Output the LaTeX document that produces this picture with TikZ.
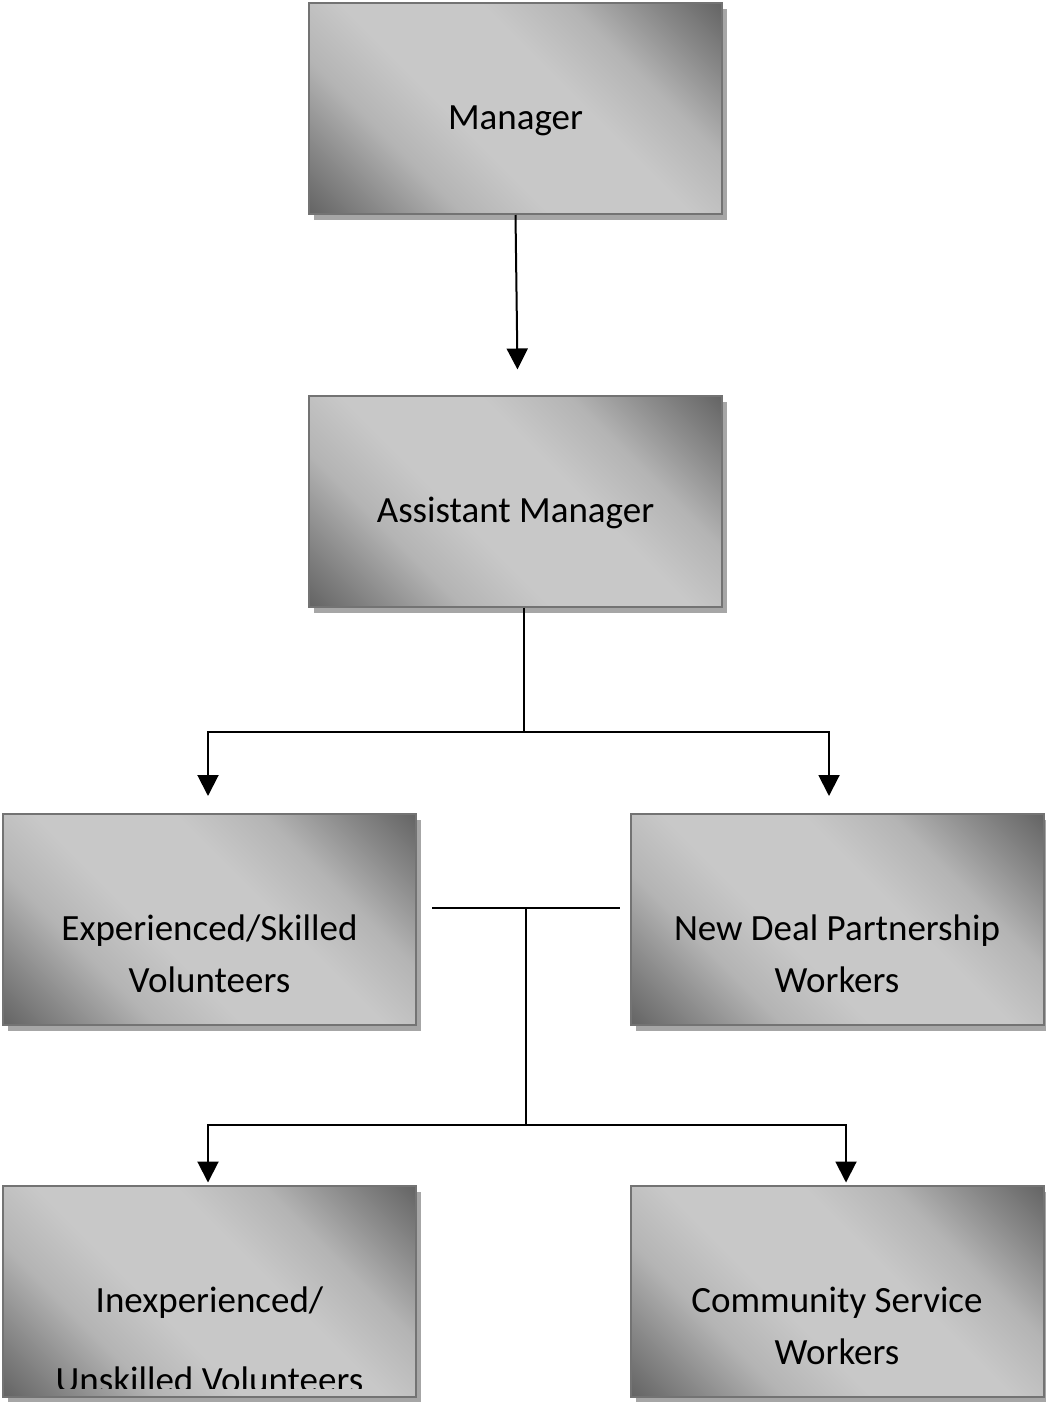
\documentclass[tikz,border=0pt]{standalone}
\usepackage{fontspec}
\setmainfont{Carlito}
\usetikzlibrary{positioning,calc,shadows,arrows.meta}

\definecolor{shadedark}{RGB}{102,102,102}
\definecolor{shademid}{RGB}{138,138,138}
\definecolor{shadesoft}{RGB}{180,180,180}
\definecolor{shadelight}{RGB}{200,200,200}
\pgfdeclareverticalshading{boxshade}{100bp}{color(0bp)=(shadedark); color(15bp)=(shadedark); color(23bp)=(shademid); color(32bp)=(shadesoft); color(42bp)=(shadelight); color(58bp)=(shadelight); color(68bp)=(shadesoft); color(77bp)=(shademid); color(85bp)=(shadedark); color(100bp)=(shadedark)}

\begin{document}
\begin{tikzpicture}[x=0.5pt, y=-0.5pt,
    role/.style={rectangle, draw=black!55, line width=1pt, shade, shading=boxshade, shading angle=-45,
        minimum width=206.5pt, minimum height=105.5pt, inner sep=0pt,
        general shadow={fill=black!35, shadow xshift=2.5pt, shadow yshift=-3pt}},
    roletext/.style={inner sep=0pt, align=center, font=\fontsize{18.5}{26}\selectfont},
    link/.style={line width=1pt},
    arrow/.style={-{Triangle[width=10.5pt,length=10.5pt]}, line width=1pt}
]
    \useasboundingbox (0,0) rectangle (1045,1402);

    % boxes
    \node[role] (manager01) at (515.5,108.5) {};
    \node[role] (assistant01) at (515.5,501) {};
    \node[role] (skilled01) at (209.5,919.5) {};
    \node[role] (newdeal01) at (837,919.5) {};
    \node[role] (unskilled01) at (209.5,1291) {};
    \node[role] (community01) at (837,1291) {};

    % texts
    \node[roletext, below=45.5pt of manager01.north] (managertext) {\strut Manager};
    \node[roletext, below=45.5pt of assistant01.north] (assistanttext) {\strut Assistant Manager};
    \node[roletext, below=45.5pt of skilled01.north] (skilledtext) {\strut Experienced/Skilled\\\strut Volunteers};
    \node[roletext, below=45.5pt of newdeal01.north] (newdealtext) {\strut New Deal Partnership\\\strut Workers};
    \node[roletext, below=45.5pt of community01.north] (communitytext) {\strut Community Service\\\strut Workers};
    \begin{scope}
        \clip (unskilled01.north west) rectangle ([yshift=4.5pt]unskilled01.south east);
        \node[roletext, below=45.5pt of unskilled01.north] (unskilledtext) {\strut Inexperienced/\\[14pt]\strut Unskilled Volunteers};
    \end{scope}

    % connectors
    \draw[arrow] (manager01.south) -- ([xshift=1pt, yshift=12.5pt]assistant01.north);

    \coordinate (split01) at (524,732);
    \draw[link] ([xshift=4.25pt]assistant01.south) -- (split01);
    \draw[arrow] (split01) -| ([xshift=-0.75pt, yshift=8.5pt]skilled01.north);
    \draw[arrow] (split01) -| ([xshift=-4pt, yshift=8.5pt]newdeal01.north);

    \coordinate (join01) at (432,908);
    \coordinate (join02) at (620,908);
    \coordinate (split02) at (526,1125);
    \draw[link] (join01) -- (join02);
    \draw[link] (join01 -| split02) -- (split02);
    \draw[arrow] (split02) -| ([xshift=-0.75pt, yshift=1pt]unskilled01.north);
    \draw[arrow] (split02) -| ([xshift=4.5pt, yshift=1pt]community01.north);
\end{tikzpicture}
\end{document}
